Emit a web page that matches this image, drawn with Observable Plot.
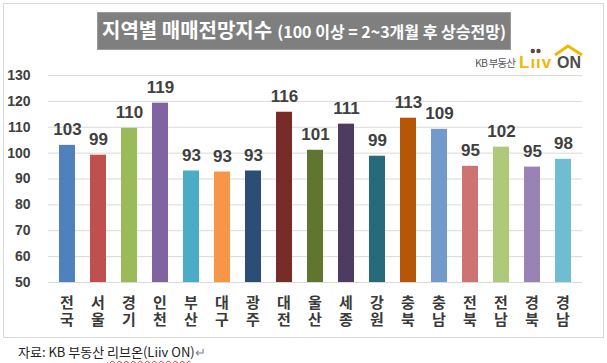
<!DOCTYPE html>
<html>
<head>
<meta charset="utf-8">
<script src="https://cdn.jsdelivr.net/npm/d3@7"></script>
<script src="https://cdn.jsdelivr.net/npm/@observablehq/plot@0.6"></script>
<style>
  body { margin: 0; background: #fff; }
  #wrap { position: relative; width: 607px; height: 363px; overflow: hidden; background: #fff;
          font-family: "Liberation Sans", "Noto Sans CJK KR", sans-serif; }
  #frame { position: absolute; left: 3px; top: 3px; width: 601px; height: 335px; box-sizing: border-box;
           border: 1px solid #D9D9D9; }
  #chart { position: absolute; left: 0; top: 0; }
  .xl { position: absolute; width: 30px; margin-left: -15px; text-align: center; font-family: "Liberation Sans", "Noto Sans CJK KR", sans-serif;
        font-weight: bold; font-size: 15px; line-height: 17px; color: #3A3A3A; }
  #title { position: absolute; left: 97px; top: 12px; width: 414px; height: 38px; background: #7F7F7F;
           color: #fff; font-family: "Noto Sans CJK KR", sans-serif; font-weight: bold;
           display: flex; align-items: baseline; justify-content: center; box-sizing: border-box; padding-top: 2px; border: 1px solid #9a9a9a; white-space: nowrap; }
  #title .main { font-size: 20px; }
  #title .sub { font-size: 16px; margin-left: 5px; letter-spacing: 0px; }
  #logo { position: absolute; left: 475px; top: 44px; width: 110px; height: 28px; }
  #logo .kb { position: absolute; left: 0; top: 13px; font-family: "Noto Sans CJK KR", sans-serif; font-size: 10.5px; color: #595959; line-height: 12px; letter-spacing: -0.8px; }
  #logo .liiv { position: absolute; left: 44px; top: 10px; font-family: "Liberation Sans", sans-serif; font-weight: bold; font-size: 17px; color: #F2B705; line-height: 17px; letter-spacing: 1px; }
  #logo .on { position: absolute; left: 82px; top: 10px; font-family: "Liberation Sans", sans-serif; font-weight: bold; font-size: 16px; color: #4D4D4D; line-height: 17px; }
  #logo svg { position: absolute; left: 0; top: 0; }
  #source { position: absolute; left: 18px; top: 343px; font-family: "Noto Sans CJK KR", sans-serif; font-size: 13px; color: #222; line-height: 17px; }
  #source .sq { text-decoration: underline wavy #E03030; text-decoration-thickness: 1px; text-underline-offset: 3px; }
  #source .pm { color: #888; }
</style>
</head>
<body>
<div id="wrap">
  <div id="frame"></div>
  <div id="chart"></div>
  <div id="xlabels"></div>
  <div id="title"><span class="main">지역별 매매전망지수</span><span class="sub">(100 이상 = 2~3개월 후 상승전망)</span></div>
  <div id="logo">
    <span class="kb">KB 부동산</span>
    <span class="liiv">Lııv</span>
    <span class="on">ON</span>
    <svg width="110" height="28">
      <circle cx="57.8" cy="7" r="2.2" fill="#5a4a3a"></circle>
      <circle cx="63.5" cy="7" r="2.2" fill="#5a4a3a"></circle>
      <polyline points="80,11 93,2 107,11" fill="none" stroke="#F2B705" stroke-width="3" stroke-linejoin="miter"></polyline>
    </svg>
  </div>
  <div id="source">자료: KB 부동산 <span class="sq">리브온(Liiv ON</span>)<span class="pm">↵</span></div>
</div>
<script>
const regions = ["전국","서울","경기","인천","부산","대구","광주","대전","울산","세종","강원","충북","충남","전북","전남","경북","경남"];
const values  = [103.0, 99.2, 109.6, 119.3, 93.1, 92.7, 93.1, 115.8, 101.1, 111.2, 98.8, 113.5, 109.2, 94.9, 102.3, 94.6, 97.6];
const valueLabels = ["103","99","110","119","93","93","93","116","101","111","99","113","109","95","102","95","98"];
const colors = ["#4F81BD","#C0504D","#9BBB59","#8064A2","#4BACC6","#F79646","#2C4D75","#772C2A","#5F7530","#4D3B62","#276A7C","#B65708","#729ACA","#CD7371","#AFC97A","#9983B5","#6FBDD1"];
const yTicks = [50, 60, 70, 80, 90, 100, 110, 120, 130];
const yDomain = [50, 130];

const data = regions.map((r, i) => ({
  region: r, value: values[i], label: valueLabels[i], color: colors[i]
}));

const chart = Plot.plot({
  width: 607,
  height: 340,
  marginTop: 75,
  marginBottom: 58,
  marginLeft: 48,
  marginRight: 25,
  style: { fontFamily: "'Liberation Sans', 'Noto Sans CJK KR', sans-serif", background: "transparent" },
  x: { type: "band", domain: regions, paddingInner: 0.49, paddingOuter: 0.25, axis: null },
  y: { domain: yDomain, axis: null },
  color: { type: "identity" },
  marks: [
    Plot.gridY(yTicks, { stroke: "#D9D9D9", strokeOpacity: 1, strokeWidth: 1 }),
    Plot.axisY(yTicks, { label: null, tickSize: 0, tickPadding: 18, fontSize: 14, fontWeight: "bold", fill: "#404040", tickFormat: d => String(d) }),
    Plot.barY(data, { x: "region", y1: () => 50, y2: "value", fill: "color" }),
    Plot.text(data, { x: "region", y: "value", text: "label", dy: -10, lineAnchor: "bottom",
      fontSize: 17, fontWeight: "bold", fill: "#404040" })
  ]
});
document.getElementById("chart").appendChild(chart);

// Category labels (two stacked syllables), placed with Plot's own x and y scales
const xs = chart.scale("x"), ys = chart.scale("y");
const xl = document.getElementById("xlabels");
regions.forEach(r => {
  const d = document.createElement("div");
  d.className = "xl";
  d.style.left = (xs.apply(r) + xs.bandwidth / 2) + "px";
  d.style.top = (ys.apply(yDomain[0]) + 11.5) + "px";
  d.innerHTML = r.split("").join("<br>");
  xl.appendChild(d);
});
</script>
</body>
</html>
